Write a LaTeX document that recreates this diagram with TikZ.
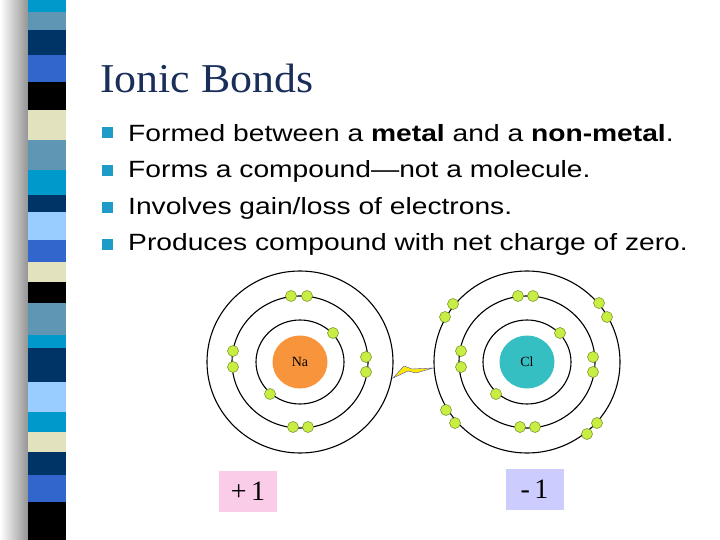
\documentclass[tikz,border=0pt]{standalone}
\usepackage{fontspec}
\usetikzlibrary{shapes.geometric}
\setmainfont{Liberation Serif}
\newfontfamily\arialf[FakeStretch=1.2]{Liberation Sans}
\newfontfamily\titlef[FakeStretch=1.07]{Liberation Serif}
\begin{document}
\begin{tikzpicture}[x=1pt,y=-1pt,
  shell/.style={draw=black,line width=1.1pt},
  elec/.style={circle,fill=elecc,draw=elecd,line width=0.5pt,inner sep=0pt,minimum size=11pt},
  bul/.style={fill=bulc,minimum size=11pt,inner sep=0pt},
  line/.style={anchor=west,font=\arialf\fontsize{23.5}{26}\selectfont,inner sep=0pt},
  charge/.style={minimum width=58pt,minimum height=41pt,inner sep=0pt,font=\fontsize{28}{30}\selectfont}]
\definecolor{elecc}{HTML}{C8EE44}
\definecolor{elecd}{HTML}{6E8A1E}
\definecolor{bulc}{HTML}{1E9BC8}
\definecolor{titc}{HTML}{1A2E5A}
\definecolor{nac}{HTML}{F7943C}
\definecolor{clc}{HTML}{36BFC2}
\definecolor{s1}{HTML}{0099CC}\definecolor{s2}{HTML}{5F96B4}\definecolor{s3}{HTML}{003366}
\definecolor{s4}{HTML}{3366CC}\definecolor{s5}{HTML}{E2E2BE}\definecolor{s6}{HTML}{99CCFF}
\useasboundingbox (0,0) rectangle (720,540);
\fill[white] (0,0) rectangle (720,540);
\shade[left color=white,right color=black!45] (0,0) rectangle (30,540);
% stripe
\foreach \a/\b/\c in {0/12/s1,12/30/s2,30/55/s3,55/82/s4,82/110/black,110/140/s5,140/170/s2,170/195/s1,195/212/s3,212/240/s6,240/262/s4,262/282/s5,282/303/black,303/335/s2,335/348/s1,348/382/s3,382/412/s6,412/432/s1,432/452/s5,452/475/s3,475/502/s4,502/540/black}
  \fill[\c] (28,\a) rectangle (66,\b);
% title
\node[anchor=west,inner sep=0pt,text=titc,font=\titlef\fontsize{41}{44}\selectfont] (title) at (100,78) {Ionic Bonds};
% bullets
\foreach \y/\n in {133/b1,171/b2,208/b3,244/b4} \node[bul] (\n) at (107,\y) {};
\node[line] (t1) at (128,133) {Formed between a \textbf{metal} and a \textbf{non-metal}.};
\node[line] (t2) at (128,171) {Forms a compound—not a molecule.};
\node[line] (t3) at (128,208) {Involves gain/loss of electrons.};
\node[line] (t4) at (128,244) {Produces compound with net charge of zero.};
% Na atom
\foreach \r in {44,68,93} \draw[shell] (300,362) ellipse[x radius=\r,y radius=\r-2];
\node[ellipse,fill=nac,minimum width=55pt,minimum height=53pt,inner sep=0pt,font=\fontsize{14}{16}\selectfont] (na) at (300,362) {Na};
\foreach \x/\y [count=\i] in {333/333,270/394,291/296,307/296,233/351,233/367,366/357,366/372,293/427,308/427}
  \node[elec] (ne\i) at (\x,\y) {};
% Cl atom
\foreach \r in {44,68,93} \draw[shell] (527,362) ellipse[x radius=\r,y radius=\r-2];
\node[ellipse,fill=clc,minimum width=55pt,minimum height=53pt,inner sep=0pt,font=\fontsize{14}{16}\selectfont] (cl) at (527,362) {Cl};
\foreach \x/\y [count=\i] in {560/333,496/394,518/296,533/296,461/351,461/367,593/357,593/372,520/427,535/427,453/304,445/317,599/303,607/317,446/410,455/423,597/423,587/434}
  \node[elec] (ce\i) at (\x,\y) {};
% lightning bolt
\fill[yellow!90!orange,draw=gray!60!blue,line width=0.4pt] (393,378) -- (404,366) -- (412,369) -- (433,368) -- (416,373) -- (408,371) -- cycle;
% charge boxes
\node[charge,fill=magenta!20] (pc) at (248,491) {+\,1};
\node[charge,fill=blue!20] (mc) at (534.5,489) {-\,1};
\end{tikzpicture}
\end{document}
